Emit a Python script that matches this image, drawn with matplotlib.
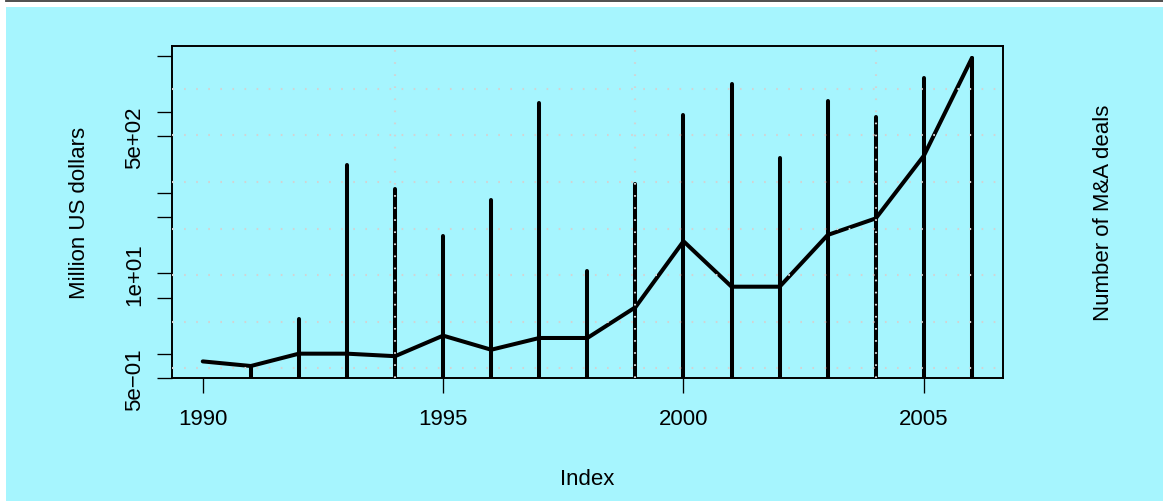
import numpy as np
import matplotlib
matplotlib.use("Agg")
import matplotlib.pyplot as plt
from matplotlib.patches import Rectangle
from matplotlib.lines import Line2D

plt.rcParams['font.family'] = ['Liberation Sans', 'DejaVu Sans']

# Annual data
years = list(range(1990, 2007))
deals = [np.nan, 0.7, 2.7, 222, 110, 29, 81, 1290, 10.8, 128,
         920, 2200, 270, 1360, 855, 2620, 4670]
value = [0.81, 0.71, 1.01, 1.01, 0.94, 1.69, 1.13, 1.58, 1.58, 3.8,
         25, 6.83, 6.83, 29.9, 48, 287, 4670]

x_ticks = [1990, 1995, 2000, 2005]
y_ticks = [0.5, 1, 5, 10, 50, 100, 500, 1000, 5000]
y_labels = {0.5: "5e\u221201", 10: "1e+01", 500: "5e+02"}
grid_x = [1994, 1999, 2004]
grid_y = [0.665, 2.51, 9.46, 35.8, 135.6, 514, 1928]

W, H = 1163, 502
bg = "#a6f5fe"

fig = plt.figure(figsize=(W / 100, H / 100), dpi=100, facecolor="white")
fig.patches.append(Rectangle((6 / W, 0), 1 - 6 / W, 1 - 8 / H,
                             transform=fig.transFigure, facecolor=bg,
                             edgecolor="none", zorder=-10))
fig.lines.append(Line2D([6 / W, 1], [1 - 2 / H, 1 - 2 / H],
                        transform=fig.transFigure, color="#404040", lw=1.3,
                        zorder=-10))

ax = fig.add_axes([172 / W, 1 - 379.3 / H, (1002.7 - 172) / W, (379.3 - 47) / H])
ax.set_zorder(5)
ax.set_facecolor(bg)
ax.set_yscale("log")
ax.set_xlim(1989.36, 2006.64)
ax.set_ylim(0.5, 6576)

# Vertical bars for the deal counts
yr = np.array(years, dtype=float)
dv = np.array(deals, dtype=float)
ok = ~np.isnan(dv)
ax.vlines(yr[ok], 0.3, dv[ok], colors="black", lw=2.9,
          capstyle="round", zorder=2)

# Line for the deal value
ax.plot(years, value, color="black", lw=2.9, solid_joinstyle="round",
        solid_capstyle="round", zorder=3)

# Dotted grid drawn over the data
dot = (0, (0.8, 5.0))
for gx in grid_x:
    ax.axvline(gx, color="#d3d3d3", lw=1.5, ls=dot, zorder=4)
for gy in grid_y:
    ax.axhline(gy, color="#d3d3d3", lw=1.5, ls=dot, zorder=4)

ax.set_xticks(x_ticks)
ax.set_xticklabels([str(t) for t in x_ticks])
ax.xaxis.set_minor_locator(matplotlib.ticker.NullLocator())
ax.set_yticks(y_ticks)
ax.set_yticklabels([y_labels.get(t, "") for t in y_ticks])
ax.yaxis.set_minor_locator(matplotlib.ticker.NullLocator())

ax.tick_params(axis="both", which="major", direction="out", length=10.8,
               width=0.95, labelsize=16, colors="black")
ax.tick_params(axis="x", pad=10.5)
ax.tick_params(axis="y", pad=12)
for lab in ax.get_yticklabels():
    lab.set_rotation(90)
    lab.set_rotation_mode("anchor")
    lab.set_ha("center")
    lab.set_va("baseline")

for s in ax.spines.values():
    s.set_linewidth(1.4)
    s.set_color("black")

fig.text(587.3 / W, 1 - 485 / H, "Index", ha="center", va="baseline",
         fontsize=16)
fig.text(85 / W, 1 - 213 / H, "Million US dollars", rotation=90,
         rotation_mode="anchor", ha="center", va="baseline", fontsize=16)
fig.text(1109.3 / W, 1 - 212.5 / H, "Number of M&A deals", rotation=90,
         rotation_mode="anchor", ha="center", va="baseline", fontsize=16)

fig.savefig("out.png", dpi=100, facecolor="white")
